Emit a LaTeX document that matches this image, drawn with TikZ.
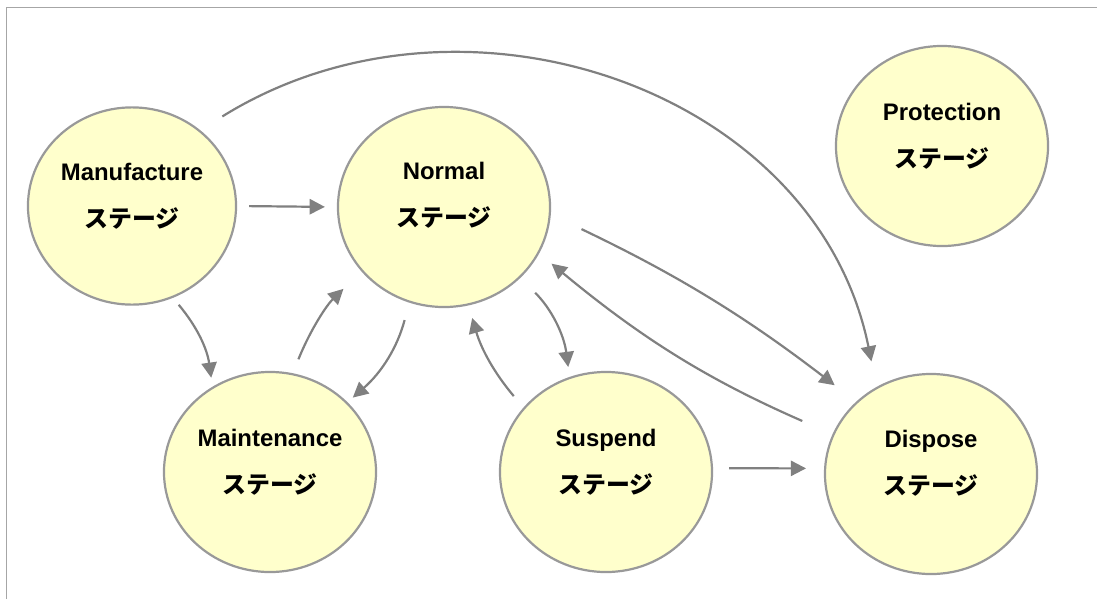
\documentclass[tikz,border=0pt]{standalone}
\usepackage{fontspec}
\setmainfont{Liberation Sans}
\newfontfamily\jpfont{Noto Sans CJK JP}
\usetikzlibrary{arrows.meta,shapes.geometric}
\definecolor{stagefill}{HTML}{FFFFCC}
\definecolor{stageedge}{HTML}{999999}
\definecolor{flowgray}{HTML}{808080}
\definecolor{framegray}{HTML}{A6A6A6}
\tikzset{
	stage/.style={
			ellipse, draw=stageedge, fill=stagefill, line width=0.055cm,
			minimum width=5.3cm, minimum height=5cm, inner sep=0pt
		},
	stagetext/.style={
			align=center, font=\fontsize{17}{33.7}\selectfont\bfseries
		},
	flow/.style={
			draw=flowgray, line width=0.055cm,
			-{Triangle[length=0.38cm, width=0.38cm]}
		}
}

\begin{document}
\begin{tikzpicture}[x=0.025cm, y=-0.025cm]
		\useasboundingbox (0, 0) rectangle (1097, 599);
		\draw[framegray, line width=0.025cm] (6, 599) -- (6, 7) -- (1097, 7);

		\node[stage, minimum width=5.2cm, minimum height=4.93cm] (man) at (132, 206) {};
		\node[stage] (nor) at (444, 207) {};
		\node[stage] (pro) at (942, 146) {};
		\node[stage] (mnt) at (270, 472) {};
		\node[stage] (sus) at (606, 472) {};
		\node[stage] (dis) at (931, 474) {};

		\node[stagetext] (man-t) at ([yshift=0.25cm]man.center) {Manufacture\\{\jpfont ステージ}};
		\node[stagetext] (nor-t) at ([yshift=0.3cm]nor.center) {Normal\\{\jpfont ステージ}};
		\node[stagetext] (pro-t) at ([yshift=0.25cm]pro.center) {Protection\\{\jpfont ステージ}};
		\node[stagetext] (mnt-t) at ([yshift=0.25cm]mnt.center) {Maintenance\\{\jpfont ステージ}};
		\node[stagetext] (sus-t) at ([yshift=0.25cm]sus.center) {Suspend\\{\jpfont ステージ}};
		\node[stagetext] (dis-t) at ([yshift=0.27cm]dis.center) {Dispose\\{\jpfont ステージ}};

		\draw[flow, shorten <=0.3cm, shorten >=0.3cm] (man.east) -- (nor.west);
		\draw[flow, shorten <=0.65cm, shorten >=0.65cm] (man.48) .. controls (461, -32) and (816, 88) .. (dis.122);
		\draw[flow, shorten <=0.225cm, shorten >=0.225cm] (man.-66) to[bend left=16] (mnt.124);
		\draw[flow, shorten <=0.375cm, shorten >=0.625cm] (mnt.77) to[bend left=12] (nor.-142);
		\draw[flow, shorten <=0.45cm, shorten >=0.175cm] (nor.-110) to[bend left=17] (mnt.42);
		\draw[flow, shorten <=0.375cm, shorten >=0.325cm] (sus.142) to[bend left=12] (nor.-76);
		\draw[flow, shorten <=0.525cm, shorten >=0.25cm] (nor.-43) to[bend left=19] (sus.111);
		\draw[flow, shorten <=0.85cm, shorten >=0.675cm] (nor.-4) to[bend left=6] (dis.136);
		\draw[flow, shorten <=0.825cm, shorten >=0.4cm] (dis.158) to[bend left=8] (nor.-26);
		\draw[flow, shorten <=0.4cm, shorten >=0.45cm] (sus.2) -- (dis.177);
	\end{tikzpicture}
\end{document}
